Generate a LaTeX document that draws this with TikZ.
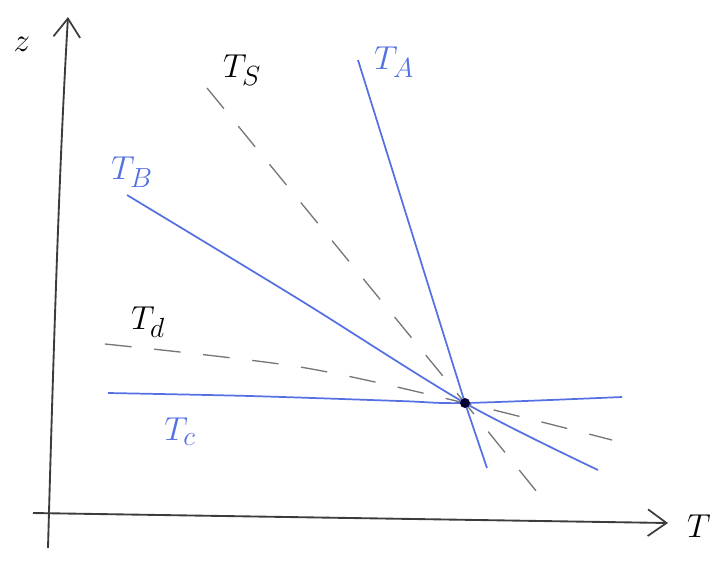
\documentclass[tikz,border=0pt]{standalone}
\usepackage{amsmath}
\usepackage{xcolor}
\usepackage{tikz}
\usetikzlibrary{arrows.meta}

\definecolor{sketchblue}{RGB}{84,112,226}
\definecolor{pencil}{RGB}{60,60,60}

\begin{document}
\begin{tikzpicture}[
  x=0.75pt, y=-0.75pt,
  every node/.style={font=\fontsize{32}{36}\selectfont, inner sep=0pt},
  axis/.style={-{Straight Barb[length=14pt, width=20pt, line width=1.3pt]}, line width=1.4pt, pencil},
  isoline/.style={line width=1.3pt, sketchblue},
  guess/.style={line width=1pt, pencil!70, dash pattern=on 20pt off 17pt},
  bluelabel/.style={text=sketchblue},
  blacklabel/.style={text=black}
]
\useasboundingbox (0,0) rectangle (725,562);

% axes
\coordinate (ztop) at (68,17);
\coordinate (Tend) at (668,523);
\draw[axis] (48,548) .. controls (54,330) and (60,150) .. (ztop);
\draw[axis] (33,513) -- (Tend);
\node[blacklabel] (zlab) at (22,44) {$z$};
\node[blacklabel, font=\fontsize{40}{44}\selectfont] (Tlab) at (699,526) {$T$};

% common point
\coordinate (cross) at (465,403);

% solid lines
\draw[isoline] (358,60) -- (cross) -- (487,468);
\draw[isoline] plot[smooth] coordinates {(127,195) (300,300) (cross) (598,470)};
\draw[isoline] plot[smooth] coordinates {(108,393) (250,396) (400,401) (cross) (622,397)};

% dashed lines
\draw[guess] (207,88) -- (cross) -- (537,492);
\draw[guess] plot[smooth] coordinates {(105,344) (300,367) (cross) (612,440)};

\fill[black!80!blue] (cross) circle (5);

\node[bluelabel] (TA) at (394,62) {$T_A$};
\node[bluelabel] (TB) at (132,172) {$T_B$};
\node[bluelabel] (TC) at (180,432) {$T_c$};
\node[blacklabel] (TS) at (242,70) {$T_S$};
\node[blacklabel] (Td) at (148,322) {$T_d$};
\end{tikzpicture}
\end{document}
